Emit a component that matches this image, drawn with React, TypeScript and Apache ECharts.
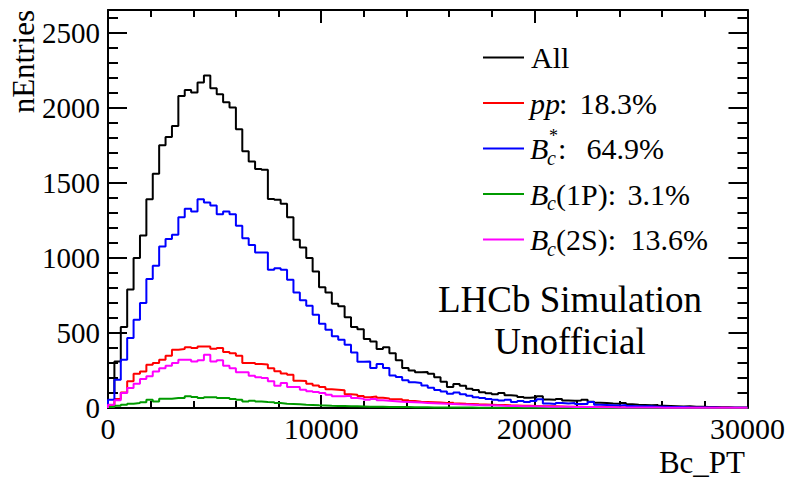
import React, { useEffect, useRef } from 'react';
import * as echarts from 'echarts';

// ---- data ----
const binWidth = 300; // Bc_PT bin width (MeV)
const xMin = 0;
const xMax = 30000;
const yMax = 2655;

const seriesNames = ['All', 'pp', 'Bc*', 'Bc(1P)', 'Bc(2S)'];
const seriesColors = ['#000000', '#ff0000', '#0000ff', '#009a00', '#ff00ff'];
const legendPercents = ['', '18.3%', '64.9%', '3.1%', '13.6%'];

const allCounts = [
  100, 310, 540, 790, 1000, 1150, 1393, 1562, 1753, 1807,
  1882, 2082, 2122, 2104, 2171, 2218, 2133, 2093, 2040, 2004,
  1860, 1713, 1644, 1595, 1589, 1395, 1389, 1362, 1273, 1122,
  1071, 1000, 911, 806, 771, 695, 678, 606, 540, 526,
  460, 444, 393, 406, 366, 318, 267, 250, 238, 240,
  228, 205, 175, 140, 160, 148, 128, 120, 105, 98,
  92, 100, 85, 82, 74, 68, 72, 78, 56, 55,
  60, 50, 48, 50, 55, 42, 35, 33, 30, 28,
  33, 25, 22, 20, 18, 20, 15, 14, 12, 10,
  12, 8, 9, 7, 6, 5, 5, 4, 3, 3,
];

const ppCounts = [
  20, 60, 104, 178, 229, 244, 289, 300, 322, 349,
  389, 393, 406, 400, 411, 411, 395, 400, 373, 366,
  349, 300, 300, 293, 290, 265, 245, 230, 222, 182,
  180, 162, 150, 140, 125, 122, 118, 92, 88, 80,
  72, 76, 68, 64, 58, 58, 52, 46, 42, 40,
  38, 36, 33, 35, 30, 28, 27, 25, 24, 22,
  20, 20, 18, 17, 15, 15, 14, 12, 12, 11,
  10, 9, 9, 8, 7, 7, 6, 6, 5, 5,
  4, 4, 4, 3, 3, 3, 2, 2, 2, 2,
  2, 1, 1, 1, 1, 1, 1, 0, 0, 0,
];

const bcStarCounts = [
  55, 189, 322, 467, 589, 700, 860, 949, 1078, 1127,
  1155, 1273, 1329, 1311, 1393, 1371, 1351, 1293, 1311, 1293,
  1215, 1133, 1087, 1038, 1038, 922, 933, 922, 855, 771,
  718, 682, 622, 562, 522, 478, 455, 422, 371, 309,
  311, 267, 293, 267, 216, 207, 185, 171, 167, 150,
  135, 120, 110, 95, 104, 92, 82, 72, 66, 60,
  55, 50, 55, 40, 46, 40, 46, 58, 30, 27,
  34, 30, 34, 26, 26, 40, 22, 20, 18, 16,
  20, 14, 12, 11, 12, 9, 8, 7, 6, 7,
  5, 4, 4, 3, 3, 2, 2, 2, 1, 1,
];

const bc1PCounts = [
  6, 15, 22, 29, 33, 38, 55, 44, 62, 62,
  66, 66, 78, 73, 66, 71, 71, 66, 66, 60,
  55, 44, 49, 44, 40, 38, 33, 29, 27, 25,
  22, 20, 18, 17, 15, 14, 13, 12, 11, 10,
  9, 9, 8, 7, 7, 6, 6, 5, 5, 5,
  4, 4, 4, 3, 3, 3, 3, 2, 2, 2,
  2, 2, 2, 1, 1, 1, 1, 1, 1, 1,
  1, 1, 0, 0, 0, 0, 0, 0, 0, 0,
  0, 0, 0, 0, 0, 0, 0, 0, 0, 0,
  0, 0, 0, 0, 0, 0, 0, 0, 0, 0,
];

const bc2SCounts = [
  22, 51, 100, 133, 162, 193, 211, 244, 266, 282,
  300, 322, 322, 311, 318, 355, 311, 318, 282, 266,
  238, 238, 215, 205, 200, 178, 149, 166, 140, 140,
  122, 111, 106, 100, 89, 78, 78, 82, 66, 62,
  55, 60, 51, 48, 45, 42, 40, 38, 36, 34,
  32, 30, 28, 27, 25, 24, 22, 20, 19, 18,
  17, 15, 14, 13, 12, 12, 11, 10, 9, 9,
  8, 8, 7, 7, 6, 6, 5, 5, 5, 4,
  4, 4, 3, 3, 3, 3, 2, 2, 2, 2,
  2, 2, 1, 1, 1, 1, 1, 1, 1, 1,
];

const allSeries = [allCounts, ppCounts, bcStarCounts, bc1PCounts, bc2SCounts];

const xTickInterval = 10000;
const yMajorInterval = 500;
const yMinorInterval = 100;

const FONT = 'Liberation Serif, Times New Roman, serif';

function toSteps(vals: number[]): [number, number][] {
  const pts: [number, number][] = [[xMin, 0]];
  vals.forEach((v, i) => pts.push([xMin + i * binWidth, v]));
  pts.push([xMin + vals.length * binWidth, vals[vals.length - 1]]);
  return pts;
}

export default function App() {
  const ref = useRef<HTMLDivElement>(null);

  useEffect(() => {
    if (!ref.current) return;
    const chart = echarts.init(ref.current, undefined, { renderer: 'svg' });

    const black = '#000';
    const xAxisBase = {
      type: 'value' as const,
      min: xMin,
      max: xMax,
      interval: xTickInterval,
      splitLine: { show: false },
      axisLine: { show: true, onZero: false, lineStyle: { color: black, width: 2 } },
      axisTick: { show: true, inside: true, length: 13, lineStyle: { color: black, width: 2 } },
      minorTick: { show: true, splitNumber: 5, length: 7, lineStyle: { color: black, width: 2 } },
    };
    const yBase = {
      type: 'value' as const,
      min: 0,
      max: yMax,
      splitLine: { show: false },
    };

    const legendRowY = [57.5, 103, 148.5, 194, 239.5];
    const legendNumEnd = [0, 657, 664, 690, 708];
    const fs = 30;
    const graphic: any[] = [];
    legendRowY.forEach((y, i) => {
      graphic.push({
        type: 'line',
        shape: { x1: 483, y1: y, x2: 524, y2: y },
        style: { stroke: seriesColors[i], lineWidth: 2 },
        z: 100,
      });
    });
    const txt = (x: number, y: number, text: string, opts: any = {}) => ({
      type: 'text',
      x,
      y,
      z: 100,
      rotation: opts.rotation || 0,
      style: {
        text,
        fill: black,
        fontFamily: FONT,
        fontSize: opts.size || fs,
        fontStyle: opts.italic ? 'italic' : 'normal',
        align: opts.align || 'left',
        verticalAlign: opts.va || 'middle',
      },
    });
    // Legend texts
    graphic.push(txt(531, legendRowY[0], 'All'));
    graphic.push(txt(530, legendRowY[1], 'pp', { italic: true }));
    graphic.push(txt(559, legendRowY[1], ':'));
    // B_c^*
    graphic.push(txt(530, legendRowY[2], 'B', { italic: true }));
    graphic.push(txt(547, legendRowY[2] + 9, 'c', { italic: true, size: 20 }));
    graphic.push(txt(549, legendRowY[2] - 13, '*', { size: 18 }));
    graphic.push(txt(558, legendRowY[2], ':'));
    // B_c(1P)
    graphic.push(txt(530, legendRowY[3], 'B', { italic: true }));
    graphic.push(txt(547, legendRowY[3] + 9, 'c', { italic: true, size: 20 }));
    graphic.push(txt(556, legendRowY[3], '(1P):'));
    // B_c(2S)
    graphic.push(txt(530, legendRowY[4], 'B', { italic: true }));
    graphic.push(txt(547, legendRowY[4] + 9, 'c', { italic: true, size: 20 }));
    graphic.push(txt(556, legendRowY[4], '(2S):'));
    for (let i = 1; i < legendPercents.length; i++) {
      graphic.push(txt(legendNumEnd[i], legendRowY[i], legendPercents[i], { align: 'right' }));
    }
    // LHCb label
    graphic.push(txt(570, 299, 'LHCb Simulation', { size: 37, align: 'center' }));
    graphic.push(txt(570, 341, 'Unofficial', { size: 37, align: 'center' }));
    // Axis titles
    graphic.push(txt(745, 462, 'Bc_PT', { size: 31, align: 'right' }));
    graphic.push(txt(23, 10, 'nEntries', { size: 31, align: 'right', rotation: Math.PI / 2 }));

    chart.setOption({
      animation: false,
      backgroundColor: '#fff',
      grid: { left: 108, right: 37, top: 10, bottom: 69, containLabel: false },
      xAxis: [
        {
          ...xAxisBase,
          position: 'bottom',
          axisLabel: {
            show: true,
            color: black,
            fontFamily: FONT,
            fontSize: 30,
            margin: 5,
            formatter: (v: number) => String(v),
          },
        },
        {
          ...xAxisBase,
          position: 'top',
          axisLabel: { show: false },
        },
      ],
      yAxis: [
        {
          ...yBase,
          position: 'left',
          interval: yMajorInterval,
          axisLine: { show: true, lineStyle: { color: black, width: 2 } },
          axisTick: { show: true, inside: true, length: 19, lineStyle: { color: black, width: 2 } },
          axisLabel: {
            show: true,
            color: black,
            fontFamily: FONT,
            fontSize: 29,
            margin: 8,
            showMaxLabel: false,
            formatter: (v: number) => (v % yMajorInterval === 0 ? String(v) : ''),
          },
        },
        {
          ...yBase,
          position: 'left',
          interval: yMinorInterval,
          axisLine: { show: false },
          axisTick: { show: true, inside: true, length: 10, lineStyle: { color: black, width: 2 } },
          axisLabel: { show: false },
        },
        {
          ...yBase,
          position: 'right',
          interval: yMajorInterval,
          axisLine: { show: true, lineStyle: { color: black, width: 2 } },
          axisTick: { show: true, inside: true, length: 19, lineStyle: { color: black, width: 2 } },
          axisLabel: { show: false },
        },
        {
          ...yBase,
          position: 'right',
          interval: yMinorInterval,
          axisLine: { show: false },
          axisTick: { show: true, inside: true, length: 10, lineStyle: { color: black, width: 2 } },
          axisLabel: { show: false },
        },
      ],
      series: allSeries.map((vals, i) => ({
        name: seriesNames[i],
        type: 'line',
        step: 'end',
        xAxisIndex: 0,
        yAxisIndex: 0,
        data: toSteps(vals),
        showSymbol: false,
        symbol: 'none',
        lineStyle: { color: seriesColors[i], width: 2 },
        itemStyle: { color: seriesColors[i] },
        z: 2 + i,
      })),
      graphic,
    });

    return () => {
      chart.dispose();
    };
  }, []);

  return (
    <div
      ref={ref}
      style={{ position: 'fixed', left: 0, top: 0, width: 788, height: 477, background: '#fff' }}
    />
  );
}
